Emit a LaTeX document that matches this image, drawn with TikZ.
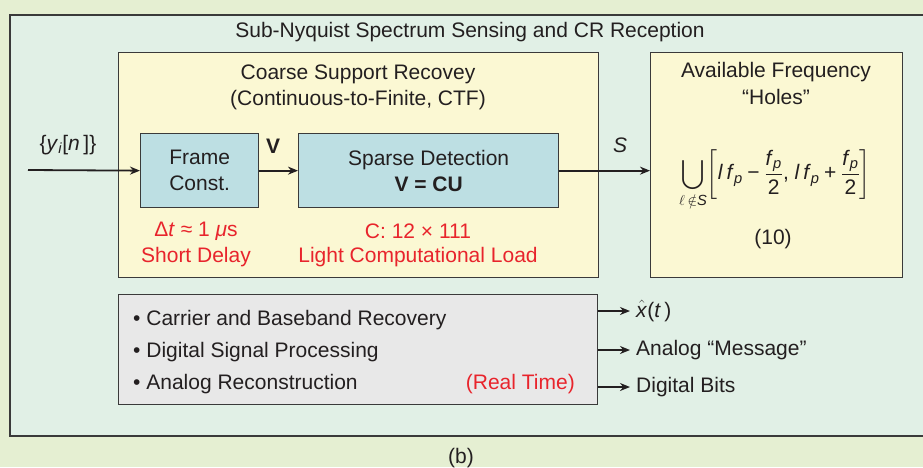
\documentclass[tikz,border=0pt]{standalone}
\usepackage{amsmath}
\usepackage{fontspec}
\setmainfont{Liberation Sans}
\usetikzlibrary{arrows.meta}
\newcommand\mi[1]{\text{\textit{#1}}}
\definecolor{outerbg}{HTML}{E5EFD2}
\definecolor{framebg}{HTML}{E1F0E6}
\definecolor{ybg}{HTML}{FBF8D3}
\definecolor{bbg}{HTML}{BDDFE3}
\definecolor{gbg}{HTML}{E8E8E8}
\definecolor{redtxt}{HTML}{E8242C}
\definecolor{ink}{HTML}{231F20}
\definecolor{edge}{HTML}{3A3A3A}
\tikzset{
  txt/.style={font=\fontsize{21}{26}\selectfont, text=ink, inner sep=0pt, align=center},
  redt/.style={txt, text=redtxt},
  box/.style={draw=edge, line width=1.3pt, anchor=north west, inner sep=0pt},
  arr/.style={draw=ink, line width=1.8pt, -{Stealth[length=10pt,width=8pt]}},
}
\begin{document}
\begin{tikzpicture}[x=1pt,y=-1pt]
\useasboundingbox (0,0) rectangle (923,467);
\clip (0,0) rectangle (923,467);
\fill[outerbg] (0,0) rectangle (923,467);
\node (frame) [box, fill=framebg, line width=1.6pt, minimum width=940pt, minimum height=421pt] at (9,14) {};
\node (title) [txt] at (470,32) {Sub-Nyquist Spectrum Sensing and CR Reception};
% yellow boxes
\node (ya) [box, fill=ybg, minimum width=480pt, minimum height=225pt] at (118,52) {};
\node (yb) [box, fill=ybg, minimum width=252pt, minimum height=225pt] at (650,52) {};
\node (yat1) [txt] at (358,74) {Coarse Support Recovey};
\node (yat2) [txt] at (358,100) {(Continuous-to-Finite, CTF)};
\node (ybt1) [txt] at (776,72) {Available Frequency};
\node (ybt2) [txt] at (776,97) {``Holes''};
\node (form) [txt] at (775,179) {$\displaystyle\bigcup_{\ell\,\notin \mi{S}}\!\left[\mi{l}\,\mi{f}_{\mi{p}}\mathbin{\text{−}}\frac{\mi{f}_{\mi{p}}}{\text{2}}\text{,}\ \mi{l}\,\mi{f}_{\mi{p}}\mathbin{\text{+}}\frac{\mi{f}_{\mi{p}}}{\text{2}}\right]$};
\node (eq) [txt] at (773,239) {(10)};
% blue boxes
\node (fc) [box, fill=bbg, minimum width=118pt, minimum height=74pt] at (140,133) {};
\node (fct) [txt] at (fc.center) {Frame\\Const.};
\node (sd) [box, fill=bbg, minimum width=260pt, minimum height=74pt] at (298,133) {};
\node (sdt) [txt] at (sd.center) {Sparse Detection\\\textbf{V = CU}};
% input
\coordinate (in) at (28,170);
\node (yin) [txt] at (68,145) {\{\textit{y}$_{\mi{i}}$[\textit{n}\,]\}};
\node (vl) [txt] at (273,146) {\textbf{V}};
\node (sl) [txt] at (620,145) {\textit{S}};
\draw[arr] (in) -- (fc.west);
\draw[arr] (fc.east) -- (sd.west);
\draw[arr] (sd.east) -- (sd.east -| yb.west);
% red notes
\node (r1) [redt] at (196,231) {Δ\textit{t} ≈ 1 \textit{μ}s};
\node (r2) [redt] at (196,257) {Short Delay};
\node (r3) [redt] at (418,231) {C: 12 × 111};
\node (r4) [redt] at (418,257) {Light Computational Load};
% gray box
\node (gb) [box, fill=gbg, minimum width=479pt, minimum height=110pt] at (118,294) {};
\node (b1) [txt, anchor=west] at (133,320) {• Carrier and Baseband Recovery};
\node (b2) [txt, anchor=west] at (133,352) {• Digital Signal Processing};
\node (b3) [txt, anchor=west] at (133,384) {• Analog Reconstruction};
\node (rt) [redt, anchor=east] at (575,384) {(Real Time)};
% outputs
\node (o1) [txt, anchor=west, inner sep=6pt] at (630,311) {$\hat{\mi{x}}$(\textit{t}\,)};
\node (o2) [txt, anchor=west, inner sep=6pt] at (630,350) {Analog ``Message''};
\node (o3) [txt, anchor=west, inner sep=6pt] at (630,387) {Digital Bits};
\draw[arr] (gb.east |- o1.west) -- (o1.west);
\draw[arr] (gb.east |- o2.west) -- (o2.west);
\draw[arr] (gb.east |- o3.west) -- (o3.west);
\node (cap) [txt] at (461,458) {(b)};
\end{tikzpicture}
\end{document}
